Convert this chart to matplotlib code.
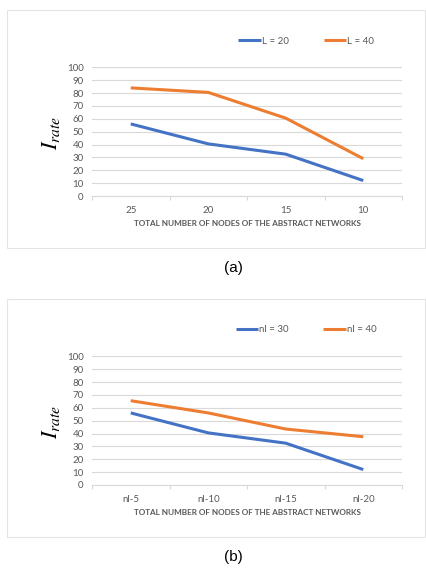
import matplotlib
matplotlib.use('Agg')
import matplotlib.pyplot as plt
from matplotlib.patches import Rectangle

# panel (a)
cats_a = ['25', '20', '15', '10']
l20 = [56, 40.5, 32.5, 12]
l40 = [84, 80.5, 60.5, 29]
# panel (b)
cats_b = ['nl-5', 'nl-10', 'nl-15', 'nl-20']
nl30 = [56, 40.5, 32.5, 12]
nl40 = [65.5, 56, 43.5, 37.5]

W, H = 426, 569
BLUE = '#4472C4'
ORANGE = '#ED7D31'
GREY = '#595959'
GRID = '#D9D9D9'
FONT = 'Lato'

plt.rcParams['mathtext.fontset'] = 'stix'
fig = plt.figure(figsize=(W / 100, H / 100), dpi=100)

def px(x, y):
  # pixel coords (top-left origin) -> figure fraction
  return x / W, 1 - y / H

def panel(top_px, cats, s1, s2, names, tag):
  # outer frame
  fx, fy = px(7, top_px + 238)
  fig.patches.append(Rectangle((fx, fy), 418 / W, 238 / H, transform=fig.transFigure,
                               fill=False, edgecolor='#E4E4E4', lw=0.8))
  x0, y0 = px(92, top_px + 186)
  ax = fig.add_axes([x0, y0, 310 / W, 128.7 / H])
  xs = range(len(cats))
  ax.plot(xs, s1, color=BLUE, lw=2.2, solid_capstyle='butt', label=names[0])
  ax.plot(xs, s2, color=ORANGE, lw=2.2, solid_capstyle='butt', label=names[1])
  ax.set_xlim(-0.5, len(cats) - 0.5)
  ax.set_ylim(0, 100)
  ax.set_yticks(range(0, 101, 10))
  ax.yaxis.grid(True, color=GRID, lw=0.8)
  ax.set_axisbelow(True)
  for s in ['top', 'right', 'left']:
    ax.spines[s].set_visible(False)
  ax.spines['bottom'].set_color(GRID)
  ax.spines['bottom'].set_linewidth(0.8)
  ax.set_xticks(xs)
  ax.set_xticklabels(cats)
  ax.set_xticks([i - 0.5 for i in range(len(cats) + 1)], minor=True)
  ax.tick_params(axis='x', which='major', length=0, pad=7, labelsize=7, labelcolor=GREY)
  ax.tick_params(axis='x', which='minor', length=3, color=GRID, width=0.8)
  ax.tick_params(axis='y', length=0, pad=6, labelsize=7, labelcolor=GREY)
  for t in ax.get_xticklabels() + ax.get_yticklabels():
    t.set_fontfamily(FONT)
  ax.set_xlabel('TOTAL NUMBER OF NODES OF THE ABSTRACT NETWORKS', fontsize=5.9,
                fontweight='bold', color=GREY, fontfamily=FONT, labelpad=4)
  fig.text(*px(51, top_px + 123), r'$I_{rate}$', fontsize=16, rotation=90,
           ha='center', va='center')
  lx, ly = px(306, top_px + 31)
  ax.legend(loc='center', bbox_to_anchor=(lx, ly), bbox_transform=fig.transFigure,
            ncol=2, frameon=False, handlelength=2.3, handletextpad=0.1,
            columnspacing=3.6, prop={'family': FONT, 'size': 7}, labelcolor=GREY)
  fig.text(*px(233, top_px + 258), tag, fontsize=11, ha='center', va='center',
           fontfamily='Liberation Sans')
  return ax

panel(10, cats_a, l20, l40, ['L = 20', 'L = 40'], '(a)')
panel(299, cats_b, nl30, nl40, ['nl = 30', 'nl = 40'], '(b)')

fig.savefig('out.png', dpi=100)
